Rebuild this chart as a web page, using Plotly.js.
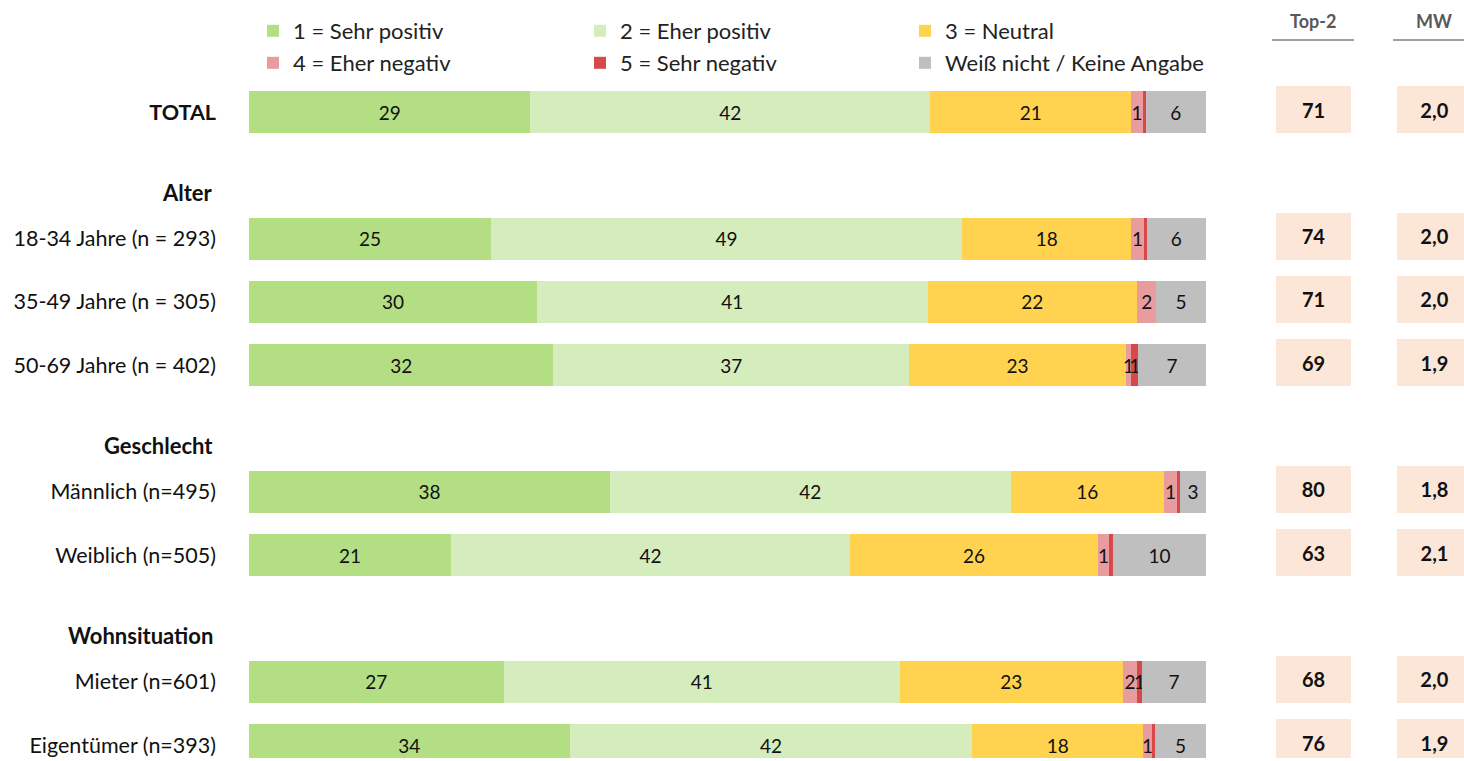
<!DOCTYPE html>
<html>
<head>
<meta charset="utf-8">
<script src="https://cdn.plot.ly/plotly-3.0.1.min.js"></script>
<style>html,body{margin:0;padding:0;background:#fff;}#chart{width:1464px;height:761px;}</style>
</head>
<body>
<div id="chart"></div>
<script>
// ---- data ----
var slots = ['TOTAL', 'g1', '18-34', '35-49', '50-69', 'g2', 'Männlich', 'Weiblich', 'g3', 'Mieter', 'Eigentümer'];
var rows = ['TOTAL', '18-34', '35-49', '50-69', 'Männlich', 'Weiblich', 'Mieter', 'Eigentümer'];
var rowLabels = ['<b>TOTAL</b>', '18-34 Jahre (n = 293)', '35-49 Jahre (n = 305)', '50-69 Jahre (n = 402)',
                 'Männlich (n=495)', 'Weiblich (n=505)', 'Mieter (n=601)', 'Eigentümer (n=393)'];
var groupHeaders = ['Alter', 'Geschlecht', 'Wohnsituation'];
var groupSlots = ['g1', 'g2', 'g3'];

var seriesNames = ['1 = Sehr positiv', '2 = Eher positiv', '3 = Neutral', '4 = Eher negativ', '5 = Sehr negativ', 'Weiß nicht / Keine Angabe'];
var sehrPositiv  = [29.4, 25.3, 30.1, 31.8, 37.7, 21.1, 26.6, 33.5];
var eherPositiv  = [41.8, 49.2, 40.8, 37.2, 41.9, 41.7, 41.4, 42.1];
var neutral      = [21.0, 17.7, 21.9, 22.6, 16.0, 25.9, 23.3, 17.8];
var eherNegativ  = [1.2, 1.3, 2.0, 0.6, 1.4, 1.2, 1.5, 1.0];
var sehrNegativ  = [0.3, 0.3, 0.0, 0.7, 0.3, 0.4, 0.5, 0.3];
var weissNicht   = [6.3, 6.2, 5.2, 7.1, 2.7, 9.7, 6.7, 5.3];
var top2 = [71, 74, 71, 69, 80, 63, 68, 76];
var mw = [2.0, 2.0, 2.0, 1.9, 1.8, 2.1, 2.0, 1.9];

// ---- styling ----
var colors = ['#B3DE84', '#D5ECBD', '#FFD34F', '#E89C9D', '#D6484A', '#BFBFBF'];
var font = 'Lato, "Open Sans", sans-serif';
var series = [sehrPositiv, eherPositiv, neutral, eherNegativ, sehrNegativ, weissNicht];

var W = 1464, H = 761, mL = 249, mT = 80, mB = 3;
var plotW = W - mL, plotH = H - mT - mB;
var slotPx = 63.3;
var barPx = 42;
function px2xp(px) { return (px - mL) / plotW; }
function px2yp(py) { return 1 + (mT - py) / plotH; }

// legend placement: text start x (px) and row y (px) for each series
var legendTextX = [293, 620, 945, 293, 620, 945];
var legendRowY = [31, 31, 31, 63, 63, 63];

var barFont = {family: font, size: 19, color: '#111'};
var boxFont = {family: font, size: 20, color: '#111'};

var traces = [];
series.forEach(function (vals, i) {
  traces.push({
    type: 'bar', orientation: 'h',
    name: seriesNames[i],
    y: rows, x: vals,
    xaxis: 'x', yaxis: 'y',
    width: barPx / slotPx,
    marker: {color: colors[i], line: {width: 0}},
    text: vals.map(function (v) { var r = Math.round(v); return r === 0 ? '' : String(r); }),
    textposition: 'inside', insidetextanchor: 'middle', textangle: 0, constraintext: 'none',
    textfont: barFont, insidetextfont: barFont,
    legend: i === 0 ? 'legend' : 'legend' + (i + 1),
    hoverinfo: 'skip'
  });
});

var boxPx = 47, boxShift = 2.5;
var boxW = boxPx / slotPx, boxOff = -boxW / 2 - boxShift / slotPx;
traces.push({
  type: 'bar', orientation: 'h', y: rows, x: top2.map(function () { return 1; }),
  xaxis: 'x2', yaxis: 'y', width: boxW, offset: boxOff,
  marker: {color: '#FCE6D8'}, showlegend: false, hoverinfo: 'skip',
  text: top2.map(function (v) { return '<b>' + v + '</b>'; }),
  textposition: 'inside', insidetextanchor: 'middle', textangle: 0, constraintext: 'none',
  textfont: boxFont, insidetextfont: boxFont
});
traces.push({
  type: 'bar', orientation: 'h', y: rows, x: mw.map(function () { return 1; }),
  xaxis: 'x3', yaxis: 'y', width: boxW, offset: boxOff,
  marker: {color: '#FCE6D8'}, showlegend: false, hoverinfo: 'skip',
  text: mw.map(function (v) { return '<b>' + v.toFixed(1).replace('.', ',') + '</b>'; }),
  textposition: 'inside', insidetextanchor: 'middle', textangle: 0, constraintext: 'none',
  textfont: boxFont, insidetextfont: boxFont
});

var yTop = -(112 - mT) / slotPx;
var yBot = yTop + plotH / slotPx;

var annotations = groupHeaders.map(function (t, i) {
  return {text: '<b>' + t + '</b>', xref: 'paper', yref: 'y', x: px2xp(215), y: slots.indexOf(groupSlots[i]),
          xanchor: 'right', yanchor: 'middle', yshift: -17, showarrow: false,
          font: {family: font, size: 22, color: '#111'}};
});
annotations.push({text: '<b>Top-2</b>', xref: 'paper', yref: 'paper', x: px2xp(1313), y: px2yp(21),
  xanchor: 'center', yanchor: 'middle', showarrow: false, font: {family: font, size: 18, color: '#595959'}});
annotations.push({text: '<b>MW</b>', xref: 'paper', yref: 'paper', x: px2xp(1434), y: px2yp(21),
  xanchor: 'center', yanchor: 'middle', showarrow: false, font: {family: font, size: 18, color: '#595959'}});

var shapes = [
  {type: 'line', xref: 'paper', yref: 'paper', x0: px2xp(1272), x1: px2xp(1354), y0: px2yp(40), y1: px2yp(40),
   line: {color: '#7F7F7F', width: 1.5}},
  {type: 'line', xref: 'paper', yref: 'paper', x0: px2xp(1393), x1: 1.0, y0: px2yp(40), y1: px2yp(40),
   line: {color: '#7F7F7F', width: 1.5}}
];

var layout = {
  width: W, height: H,
  margin: {l: mL, r: 0, t: mT, b: mB, pad: 0},
  paper_bgcolor: '#fff', plot_bgcolor: '#fff',
  barmode: 'stack',
  showlegend: true,
  xaxis: {domain: [0, 957 / plotW], range: [0, 100], visible: false, fixedrange: true},
  xaxis2: {domain: [px2xp(1276), px2xp(1351)], range: [0, 1], visible: false, fixedrange: true},
  xaxis3: {domain: [px2xp(1397), 1], range: [0, (1464 - 1397) / 75], visible: false, fixedrange: true},
  yaxis: {type: 'category', categoryorder: 'array', categoryarray: slots,
          range: [yBot, yTop], autorange: false,
          tickvals: rows, ticktext: rowLabels, ticks: '', showgrid: false, zeroline: false, showline: false,
          ticklabelstandoff: 32,
          tickfont: {family: font, size: 21.5, color: '#111'}, fixedrange: true},
  annotations: annotations,
  shapes: shapes
};
for (var i = 0; i < 6; i++) {
  layout[i === 0 ? 'legend' : 'legend' + (i + 1)] = {
    orientation: 'h', xanchor: 'left', yanchor: 'middle',
    x: px2xp(legendTextX[i] - 40), y: px2yp(legendRowY[i]),
    font: {family: font, size: 22, color: '#222'},
    bgcolor: 'rgba(0,0,0,0)', borderwidth: 0
  };
}

Plotly.newPlot('chart', traces, layout, {displayModeBar: false, staticPlot: true});
</script>
</body>
</html>
